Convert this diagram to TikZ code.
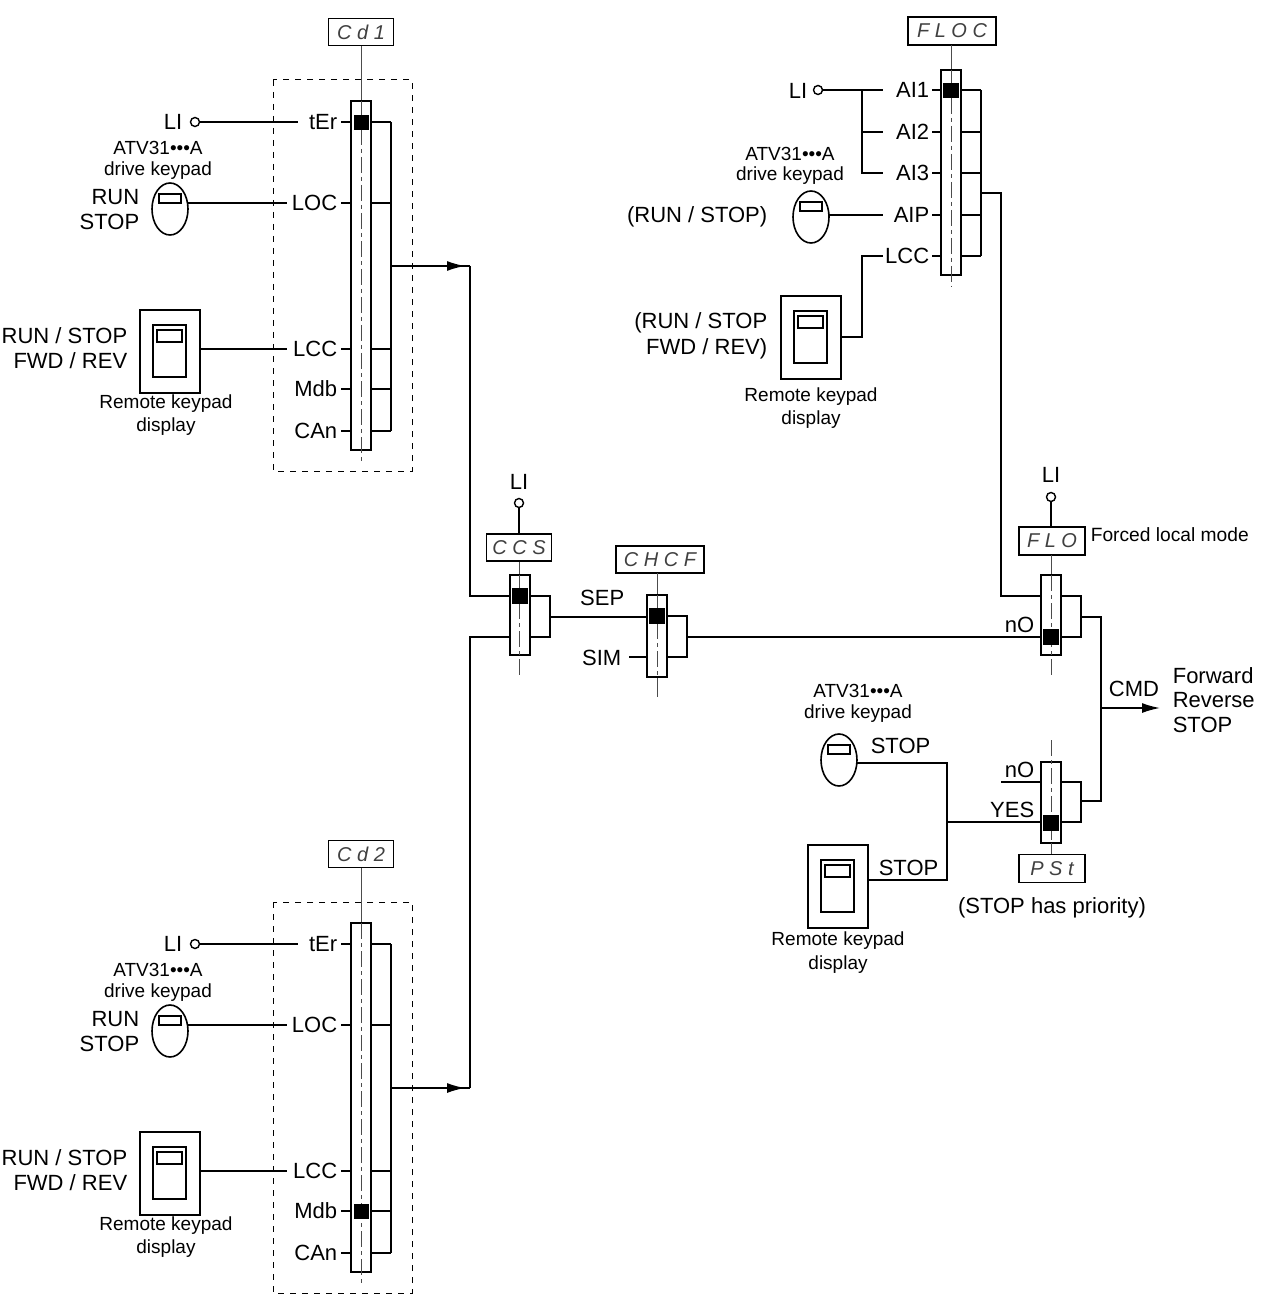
\documentclass[tikz,border=0pt]{standalone}
\usepackage{fontspec}
\setmainfont{Liberation Sans}
\usetikzlibrary{arrows.meta}
\begin{document}
\begin{tikzpicture}[x=0.5pt,y=-0.5pt,line width=0.8pt,
  lbl/.style={font=\fontsize{11}{12}\selectfont,inner sep=1pt},
  sml/.style={font=\fontsize{9.5}{11}\selectfont,inner sep=0pt,align=center},
  disp/.style={draw=black,line width=0.9pt,font=\fontsize{10}{10}\selectfont\itshape,text=black!75,inner sep=0pt},
  bar/.style={draw,fill=white,line width=0.8pt},
  cl/.style={line width=0.5pt,black!70},
  dl/.style={line width=0.5pt,black!70,dash pattern=on 8pt off 2pt on 2pt off 2pt},
  arr/.style={-{Latex[length=9pt,width=5pt]}}]
\useasboundingbox (0,0) rectangle (1260,1310);
\newcommand\keypadoval[2]{\draw (#1,#2) ellipse (18 and 26); \draw[line width=0.6pt] (#1-11,#2-15) rectangle (#1+11,#2-6);}
\newcommand\remotekp[2]{\draw (#1,#2) rectangle (#1+60,#2+83); \draw[line width=0.6pt] (#1+13,#2+15) rectangle (#1+46,#2+67); \draw[line width=0.6pt] (#1+17,#2+20) rectangle (#1+42,#2+32);}
\newcommand\LIc[2]{\draw[fill=white,line width=0.7pt] (#1,#2) circle (4.5);}

% ===== Cd1 / Cd2 blocks =====
\foreach \o/\code/\blky in {0/{C d 1}/122, 822/{C d 2}/389}{
  \node[disp,minimum width=32.5pt,minimum height=13.5pt] (d\o) at (361,32+\o) {\code};
  \draw[dashed,line width=0.5pt] (273,80+\o) rectangle (412,471+\o);
  \draw[cl] (d\o.south) -- (361,101+\o);
  \draw[bar] (351,101+\o) rectangle (371,450+\o);
  \draw[dl] (361,101+\o) -- (361,462+\o);
  \fill (354,\blky-7+\o) rectangle (369,\blky+8+\o);
  \foreach \y/\t in {122/tEr,203/LOC,349/LCC,389/Mdb,431/CAn}{
    \node[lbl,anchor=east] at (340,\y+\o) {\t};
    \draw (341,\y+\o) -- (351,\y+\o) (371,\y+\o) -- (391,\y+\o);}
  \draw (391,122+\o) -- (391,431+\o);
  \draw[arr] (391,266+\o) -- (465,266+\o);
  \draw (460,266+\o) -- (470,266+\o);
  \node[lbl,anchor=east] at (185,122+\o) {LI};
  \draw (199.5,122+\o) -- (298,122+\o);
  \LIc{195}{122+\o}
  \node[sml] at (158,148+\o) {ATV31•••A};
  \node[sml] at (158,171+\o) {drive keypad};
  \keypadoval{170}{209+\o}
  \node[lbl,anchor=east] at (142,197+\o) {RUN};
  \node[lbl,anchor=east] at (142,222+\o) {STOP};
  \draw (188,203+\o) -- (287,203+\o);
  \remotekp{140}{310+\o}
  \node[lbl,anchor=east] at (130,336+\o) {RUN / STOP};
  \node[lbl,anchor=east] at (130,361+\o) {FWD / REV};
  \draw (200,349+\o) -- (287,349+\o);
  \node[sml] at (166,404+\o) {Remote keypad};
  \node[sml] at (166,427+\o) {display};
}
\draw (470,266) -- (470,596) -- (510,596);
\draw (470,1088) -- (470,637) -- (510,637);

% ===== CCS =====
\node[lbl] at (519,482) {LI};
\draw (519,508) -- (519,534);
\LIc{519}{503}
\node[disp,minimum width=32.5pt,minimum height=13.5pt] (ccs) at (519,547.5) {C C S};
\draw[cl] (ccs.south) -- (519,575);
\draw[bar] (510,575) rectangle (530,655);
\draw[dl] (519,575) -- (519,675);
\fill (512,588) rectangle (528,604);
\draw (530,596) -- (550,596) -- (550,637) -- (530,637);
\draw (550,617) -- (647,617);

% ===== CHCF =====
\node[disp,minimum width=44pt,minimum height=13.5pt] (chcf) at (660,559.5) {C H C F};
\draw[cl] (657,573) -- (657,697);
\draw[bar] (647,595) rectangle (667,677);
\draw[dl] (657,595) -- (657,677);
\fill (649,608) rectangle (665,624);
\node[lbl,anchor=east] at (627,598) {SEP};
\node[lbl,anchor=east] at (624,658) {SIM};
\draw (629,657) -- (647,657);
\draw (667,616) -- (687,616) -- (687,657) -- (667,657);
\draw (687,637) -- (1041,637);

% ===== FLOC =====
\node[disp,minimum width=44pt,minimum height=14pt] (floc) at (952,31) {F L O C};
\draw[cl] (951,45) -- (951,70);
\draw[bar] (941,70) rectangle (961,275);
\draw[dl] (951,70) -- (951,287);
\fill (943,83) rectangle (959,98);
\foreach \y/\t in {90/AI1,132/AI2,173/AI3,215/AIP,256/LCC}{
  \node[lbl,anchor=east] at (932,\y) {\t};
  \draw (932,\y) -- (941,\y) (961,\y) -- (981,\y);}
\draw (981,90) -- (981,256);
\draw (981,193) -- (1001,193) -- (1001,596) -- (1041,596);
\node[lbl,anchor=east] at (810,91) {LI};
\draw (822.5,90) -- (883,90);
\LIc{818}{90}
\draw (862,90) -- (862,173) -- (883,173) (862,132) -- (883,132);
\node[sml] at (790,154) {ATV31•••A};
\node[sml] at (790,176) {drive keypad};
\keypadoval{811}{217}
\node[lbl,anchor=east] at (770,217) {(RUN / STOP)};
\draw (829,215) -- (883,215);
\remotekp{781}{296}
\draw (841,337) -- (862,337) -- (862,256) -- (883,256);
\node[lbl,anchor=east] at (770,323) {(RUN / STOP};
\node[lbl,anchor=east] at (770,349) {FWD / REV)};
\node[sml] at (811,397) {Remote keypad};
\node[sml] at (811,420) {display};

% ===== FLO =====
\node[lbl] at (1051,475) {LI};
\draw (1051,502) -- (1051,527);
\LIc{1051}{497}
\node[disp,minimum width=33pt,minimum height=14pt] (flo) at (1052,541) {F L O};
\node[anchor=west,inner sep=0pt,font=\fontsize{9.6}{11}\selectfont] at (1090,535) {Forced local mode};
\draw[cl] (1051,555) -- (1051,575);
\draw[bar] (1041,575) rectangle (1061,655);
\draw[dl] (1051,575) -- (1051,678);
\fill (1043,629) rectangle (1059,645);
\node[lbl,anchor=east] at (1037,625) {nO};
\draw (1061,596) -- (1081,596) -- (1081,637) -- (1061,637);
\draw (1081,617) -- (1101,617) -- (1101,801) -- (1081,801);

% ===== CMD =====
\draw[arr] (1101,708) -- (1160,708);
\node[lbl] at (1134,689) {CMD};
\node[lbl,anchor=west] at (1170,676) {Forward};
\node[lbl,anchor=west] at (1170,700) {Reverse};
\node[lbl,anchor=west] at (1170,725) {STOP};

% ===== PSt =====
\draw[bar] (1041,762) rectangle (1061,843);
\draw[dl] (1051,740) -- (1051,843);
\fill (1043,815) rectangle (1059,831);
\draw[cl] (1051,843) -- (1051,855);
\node[disp,minimum width=33pt,minimum height=14pt] (pst) at (1052,868.5) {P S t};
\node[lbl] at (1052,908) {(STOP has priority)};
\node[lbl,anchor=east] at (1037,770) {nO};
\node[lbl,anchor=east] at (1037,810) {YES};
\draw (1001,782) -- (1041,782);
\draw (947,822) -- (1041,822);
\draw (1061,782) -- (1081,782) -- (1081,822) -- (1061,822);
\node[sml] at (858,691) {ATV31•••A};
\node[sml] at (858,714) {drive keypad};
\keypadoval{839}{760}
\node[lbl,anchor=west] at (868,746) {STOP};
\draw (857,763) -- (947,763) -- (947,880) -- (868,880);
\remotekp{808}{845}
\node[lbl,anchor=west] at (876,868) {STOP};
\node[sml] at (838,941) {Remote keypad};
\node[sml] at (838,965) {display};
\end{tikzpicture}
\end{document}
